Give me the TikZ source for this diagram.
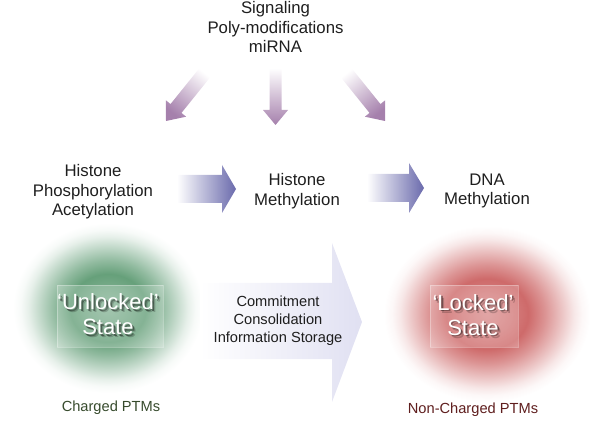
\documentclass[tikz,border=0pt]{standalone}
\usepackage{fontspec}
\setmainfont{Liberation Sans}

\definecolor{inktext}{RGB}{30,30,30}
\definecolor{arrowmauve}{RGB}{165,128,172}
\definecolor{flowblue}{RGB}{106,106,172}
\definecolor{bigflow}{RGB}{224,224,242}
\definecolor{glowgreen}{RGB}{102,160,122}
\definecolor{glowred}{RGB}{206,106,106}
\definecolor{chargedgreen}{RGB}{55,75,45}
\definecolor{unchargedred}{RGB}{95,30,30}

\pgfdeclareradialshading{greenglow}{\pgfpoint{0bp}{0bp}}{color(0bp)=(glowgreen!75!white); color(6bp)=(glowgreen!88!white); color(10bp)=(glowgreen); color(14bp)=(glowgreen!72!white); color(18bp)=(glowgreen!40!white); color(21bp)=(glowgreen!16!white); color(23bp)=(glowgreen!5!white); color(25bp)=(white); color(50bp)=(white)}
\pgfdeclareradialshading{redglow}{\pgfpoint{0bp}{0bp}}{color(0bp)=(glowred!75!white); color(6bp)=(glowred!88!white); color(10bp)=(glowred); color(14bp)=(glowred!72!white); color(18bp)=(glowred!40!white); color(21bp)=(glowred!16!white); color(23bp)=(glowred!5!white); color(25bp)=(white); color(50bp)=(white)}

\begin{document}
\begin{tikzpicture}[
  x=0.3mm,y=-0.3mm,
  stage/.style={text=inktext,align=center,font=\fontsize{14.3}{16.6}\selectfont},
  note/.style={text=inktext,align=center,font=\fontsize{12.5}{15.4}\selectfont},
  statetext/.style={text=white,align=center,font=\fontsize{18.8}{21.3}\selectfont},
  stateshadow/.style={statetext,text=black},
  statepanel/.style={fill=white,fill opacity=0.2,draw=white,draw opacity=0.3},
  feed/.style={top color=white,bottom color=arrowmauve},
  flow/.style={left color=white,right color=flowblue}
]
  \useasboundingbox (0,0) rectangle (600,425);

  % glows behind the two states
  \shade[shading=greenglow] (108,308) ellipse [x radius=2.85cm,y radius=2.55cm];
  \shade[shading=redglow] (487,314) ellipse [x radius=3.1cm,y radius=2.65cm];
  \fill[statepanel] (57,285) rectangle (163,347);
  \fill[statepanel] (430,285) rectangle (518,347);

  % arrows
  \shade[feed,shading angle=-38.8] (212.5,74.4) -- (181.5,112.9) -- (186.1,116.7) -- (166,121)
    -- (165.9,100.3) -- (170.5,104.1) -- (201.5,65.6) -- cycle;
  \shade[feed] (269.5,68) -- (269.5,110) -- (263,110) -- (275.5,125)
    -- (288,110) -- (281.5,110) -- (281.5,68) -- cycle;
  \shade[feed,shading angle=38.8] (338.5,74.4) -- (369.5,112.9) -- (364.9,116.7) -- (385,121)
    -- (385.1,100.3) -- (380.5,104.1) -- (349.5,65.6) -- cycle;
  \shade[flow] (177,175) -- (222,175) -- (222,165) -- (236,189)
    -- (222,213) -- (222,203) -- (177,203) -- cycle;
  \shade[flow] (367,174) -- (409,174) -- (409,163) -- (424,188)
    -- (409,213) -- (409,202) -- (367,202) -- cycle;
  \shade[left color=white,right color=bigflow] (200,283) -- (332,283) -- (332,243) -- (362,322)
    -- (332,402) -- (332,359) -- (200,359) -- cycle;

  \node[stage] (signals) at (275.5,27) {Signaling\\Poly-modifications\\miRNA};
  \node[stage] (histone-acet) at (93,192) {Histone\\Phosphorylation\\Acetylation};
  \node[stage] (histone-meth) at (297,191) {Histone\\Methylation};
  \node[stage] (dna-meth) at (487,191) {DNA\\Methylation};
  \node[note] (process) at (278,321) {Commitment\\Consolidation\\Information Storage};

  \node[stateshadow,text opacity=0.2] (unlocked-blur) at (111,317.5) {‘Unlocked’\\State};
  \node[stateshadow,text opacity=0.4] (unlocked-shadow) at (109.7,316) {‘Unlocked’\\State};
  \node[statetext] (unlocked) at (108,314.5) {‘Unlocked’\\State};
  \node[stateshadow,text opacity=0.2] (locked-blur) at (476,318) {‘Locked’\\State};
  \node[stateshadow,text opacity=0.4] (locked-shadow) at (474.7,316.5) {‘Locked’\\State};
  \node[statetext] (locked) at (473,315) {‘Locked’\\State};

  \node[note,text=chargedgreen] (charged) at (111,408) {Charged PTMs};
  \node[note,text=unchargedred] (non-charged) at (473,410) {Non-Charged PTMs};
\end{tikzpicture}
\end{document}
